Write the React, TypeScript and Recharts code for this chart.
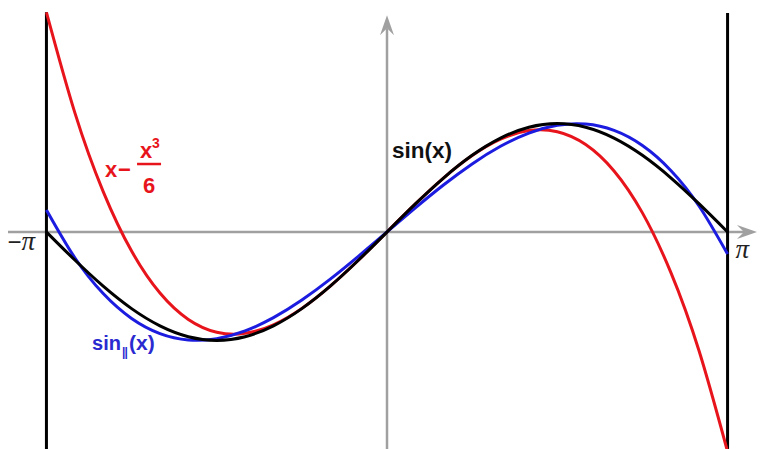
import React from "react"
import { LineChart, Line, XAxis, YAxis, ReferenceLine, ReferenceDot } from "recharts"

// sample points, step pi/12 over [-pi, pi]
const xValues = [
    -3.1416, -2.8798, -2.618, -2.3562, -2.0944, -1.8326, -1.5708, -1.309, -1.0472, -0.7854, -0.5236, -0.2618,
    0, 0.2618, 0.5236, 0.7854, 1.0472, 1.309, 1.5708, 1.8326, 2.0944, 2.3562, 2.618, 2.8798, 3.1416,
]
const sinValues = [
    0, -0.2588, -0.5, -0.7071, -0.866, -0.9659, -1, -0.9659, -0.866, -0.7071, -0.5, -0.2588,
    0, 0.2588, 0.5, 0.7071, 0.866, 0.9659, 1, 0.9659, 0.866, 0.7071, 0.5, 0.2588, 0,
]
// Taylor polynomial x - x^3/6
const taylorValues = [
    2.0261, 1.1007, 0.3726, -0.1761, -0.5632, -0.8068, -0.9248, -0.9352, -0.8558, -0.7047, -0.4997, -0.2588,
    0, 0.2588, 0.4997, 0.7047, 0.8558, 0.9352, 0.9248, 0.8068, 0.5632, 0.1761, -0.3726, -1.1007, -2.0261,
]
// projection of sin onto span{x, x^3}
const projValues = [
    0.2036, -0.2374, -0.5679, -0.7977, -0.9371, -0.9959, -0.9844, -0.9125, -0.7904, -0.628, -0.4354, -0.2227,
    0, 0.2227, 0.4354, 0.628, 0.7904, 0.9125, 0.9844, 0.9959, 0.9371, 0.7977, 0.5679, 0.2374, -0.2036,
]

const PI = 3.1416
const X_DOMAIN = [-3.57, 3.45]
const Y_DOMAIN = [-2.002, 2.14]

const RED = "#e8141c"
const BLUE = "#1c1ce0"
const GRAY = "#a0a0a0"

const chartData = xValues.map((x, i) => ({
    x,
    sin: sinValues[i],
    taylor: taylorValues[i],
    proj: projValues[i],
}))

const font = "'Liberation Sans', Arial, sans-serif"
const piFont = "'Liberation Serif', serif"

// axis line with an arrowhead at its end point
const arrowLine = (props: any) => {
    const { x1, y1, x2, y2 } = props
    const dx = x2 - x1
    const dy = y2 - y1
    const len = Math.sqrt(dx * dx + dy * dy)
    const ux = dx / len
    const uy = dy / len
    const back = 20
    const notch = 13
    const half = 7
    const bx = x2 - ux * back
    const by = y2 - uy * back
    const pts = [
        [x2, y2],
        [bx - uy * half, by + ux * half],
        [x2 - ux * notch, y2 - uy * notch],
        [bx + uy * half, by - ux * half],
    ]
    return (
        <g>
            <line x1={x1} y1={y1} x2={x2 - ux * notch} y2={y2 - uy * notch} stroke={GRAY} strokeWidth={2.5} />
            <polygon points={pts.map((p) => p.join(",")).join(" ")} fill={GRAY} />
        </g>
    )
}

const labelAt = (render: (cx: number, cy: number) => React.ReactNode) => (props: any) => (
    <g>{render(props.cx, props.cy)}</g>
)

export default function App() {
    return (
        <div style={{ position: "absolute", left: 0, top: 0, background: "#fff" }}>
            <LineChart width={761} height={449} data={chartData} margin={{ top: 0, right: 0, bottom: 0, left: 0 }}>
                <XAxis type="number" dataKey="x" domain={X_DOMAIN} hide allowDataOverflow />
                <YAxis type="number" domain={Y_DOMAIN} hide allowDataOverflow />

                {/* axes */}
                <ReferenceLine segment={[{ x: -3.496, y: 0 }, { x: 3.413, y: 0 }]} shape={arrowLine} />
                <ReferenceLine segment={[{ x: 0, y: -2.002 }, { x: 0, y: 2.0 }]} shape={arrowLine} />

                {/* interval bounds at -pi and pi */}
                <ReferenceLine segment={[{ x: -PI, y: -2.002 }, { x: -PI, y: 2.026 }]} stroke="#000" strokeWidth={3} />
                <ReferenceLine segment={[{ x: PI, y: -2.002 }, { x: PI, y: 2.02 }]} stroke="#000" strokeWidth={3} />

                <Line type="natural" dataKey="taylor" stroke={RED} strokeWidth={3} dot={false} activeDot={false} isAnimationActive={false} />
                <Line type="natural" dataKey="proj" stroke={BLUE} strokeWidth={3} dot={false} activeDot={false} isAnimationActive={false} />
                <Line type="natural" dataKey="sin" stroke="#000" strokeWidth={3} dot={false} activeDot={false} isAnimationActive={false} />

                {/* tick labels */}
                <ReferenceDot
                    x={-3.5}
                    y={-0.166}
                    r={0}
                    shape={labelAt((cx, cy) => (
                        <text x={cx} y={cy} fontFamily={font} fontSize={24} fill="#222">
                            −<tspan fontFamily={piFont} fontStyle="italic" fontSize={27}>π</tspan>
                        </text>
                    ))}
                />
                <ReferenceDot
                    x={3.215}
                    y={-0.24}
                    r={0}
                    shape={labelAt((cx, cy) => (
                        <text x={cx} y={cy} fontFamily={piFont} fontStyle="italic" fontSize={27} fill="#222">
                            π
                        </text>
                    ))}
                />

                {/* curve labels */}
                <ReferenceDot
                    x={0.046}
                    y={0.683}
                    r={0}
                    shape={labelAt((cx, cy) => (
                        <text x={cx} y={cy} fontFamily={font} fontWeight="bold" fontSize={22.5} fill="#111">
                            sin(x)
                        </text>
                    ))}
                />
                <ReferenceDot
                    x={-2.601}
                    y={0.507}
                    r={0}
                    shape={labelAt((cx, cy) => (
                        <g fill={RED} fontFamily={font} fontWeight="bold">
                            <text x={cx} y={cy} fontSize={22}>x</text>
                            <text x={cx + 13} y={cy} fontSize={22}>−</text>
                            <text x={cx + 35} y={cy - 19} fontSize={22}>x</text>
                            <text x={cx + 47} y={cy - 29} fontSize={14}>3</text>
                            <line x1={cx + 32} y1={cy - 13} x2={cx + 56} y2={cy - 13} stroke={RED} strokeWidth={2.5} />
                            <text x={cx + 38} y={cy + 16} fontSize={22}>6</text>
                        </g>
                    ))}
                />
                <ReferenceDot
                    x={-2.721}
                    y={-1.089}
                    r={0}
                    shape={labelAt((cx, cy) => (
                        <g fill="#2a2ad0" fontFamily={font} fontWeight="bold">
                            <text x={cx} y={cy} fontSize={20}>sin</text>
                            <text x={cx + 30} y={cy + 6} fontSize={12} letterSpacing={-1}>||</text>
                            <text x={cx + 37} y={cy} fontSize={21}>(x)</text>
                        </g>
                    ))}
                />
            </LineChart>
        </div>
    )
}
